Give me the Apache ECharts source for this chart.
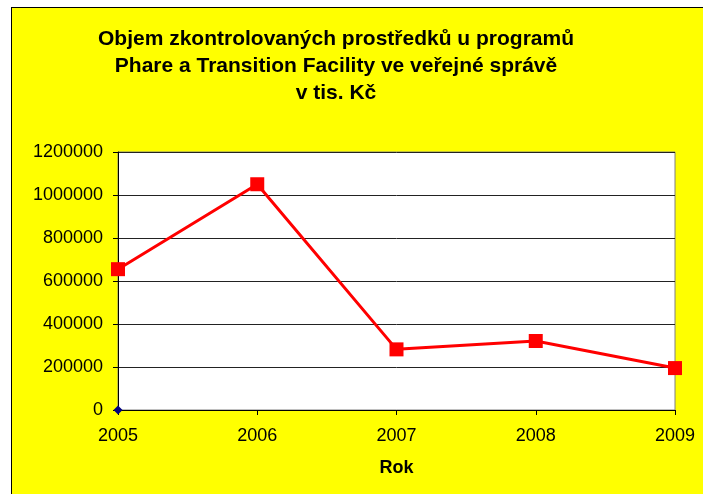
<!DOCTYPE html>
<html>
<head>
<meta charset="utf-8">
<script src="https://cdn.jsdelivr.net/npm/echarts@6/dist/echarts.min.js"></script>
<style>
html,body{margin:0;padding:0;background:#fff;width:703px;height:494px;overflow:hidden;}
#bg{position:absolute;left:11px;top:7px;width:720px;height:520px;background:#FFFF00;border-left:1.5px solid #000;border-top:1.5px solid #000;box-sizing:border-box;}
#chart{position:absolute;left:0;top:0;width:703px;height:494px;}
</style>
</head>
<body>
<div id="bg"></div>
<div id="chart"></div>
<script>
const titleText = "Objem zkontrolovaných prostředků u programů\nPhare a Transition Facility ve veřejné správě\nv tis. Kč";
const xAxisName = "Rok";
const categories = ["2005", "2006", "2007", "2008", "2009"];
const values = [655000, 1050000, 282000, 321000, 195000];
const markerValues = [0, null, null, null, null];
const yMin = 0, yMax = 1200000, yStep = 200000;

const chart = echarts.init(document.getElementById('chart'), null, {renderer: 'canvas'});
const font = '"Liberation Sans", Arial, sans-serif';
chart.setOption({
  backgroundColor: 'transparent',
  animation: false,
  title: {
    text: titleText,
    left: 331,
    top: 21,
    textAlign: 'center',
    textStyle: {fontFamily: font, fontWeight: 'bold', fontSize: 21, lineHeight: 27, color: '#000'}
  },
  grid: {
    left: 118, right: 28, top: 152, bottom: 84,
    show: true, backgroundColor: '#fff', borderColor: '#808080', borderWidth: 1
  },
  xAxis: {
    type: 'category',
    data: categories,
    boundaryGap: false,
    name: xAxisName,
    nameLocation: 'middle',
    nameGap: 49,
    nameTextStyle: {fontFamily: font, fontWeight: 'bold', fontSize: 18, color: '#000'},
    axisLine: {show: true, lineStyle: {color: '#000', width: 1}},
    axisTick: {show: true, inside: false, length: 5, alignWithLabel: true, lineStyle: {color: '#000'}},
    axisLabel: {fontFamily: font, fontSize: 18, color: '#000', margin: 17},
    splitLine: {show: false}
  },
  yAxis: {
    type: 'value',
    min: yMin, max: yMax, interval: yStep,
    axisLine: {show: true, lineStyle: {color: '#000', width: 1}},
    axisTick: {show: true, length: 5, lineStyle: {color: '#000'}},
    axisLabel: {fontFamily: font, fontSize: 18, color: '#000', margin: 15, formatter: v => String(v)},
    splitLine: {show: true, lineStyle: {color: '#222', width: 1}}
  },
  series: [
    {
      type: 'line',
      data: values,
      symbol: 'rect',
      symbolSize: 14,
      lineStyle: {color: '#FF0000', width: 3},
      itemStyle: {color: '#FF0000'},
      z: 3
    },
    {
      type: 'line',
      data: markerValues,
      symbol: 'diamond',
      symbolSize: 9,
      lineStyle: {width: 0},
      itemStyle: {color: '#000080'},
      z: 4
    }
  ]
});
</script>
</body>
</html>
